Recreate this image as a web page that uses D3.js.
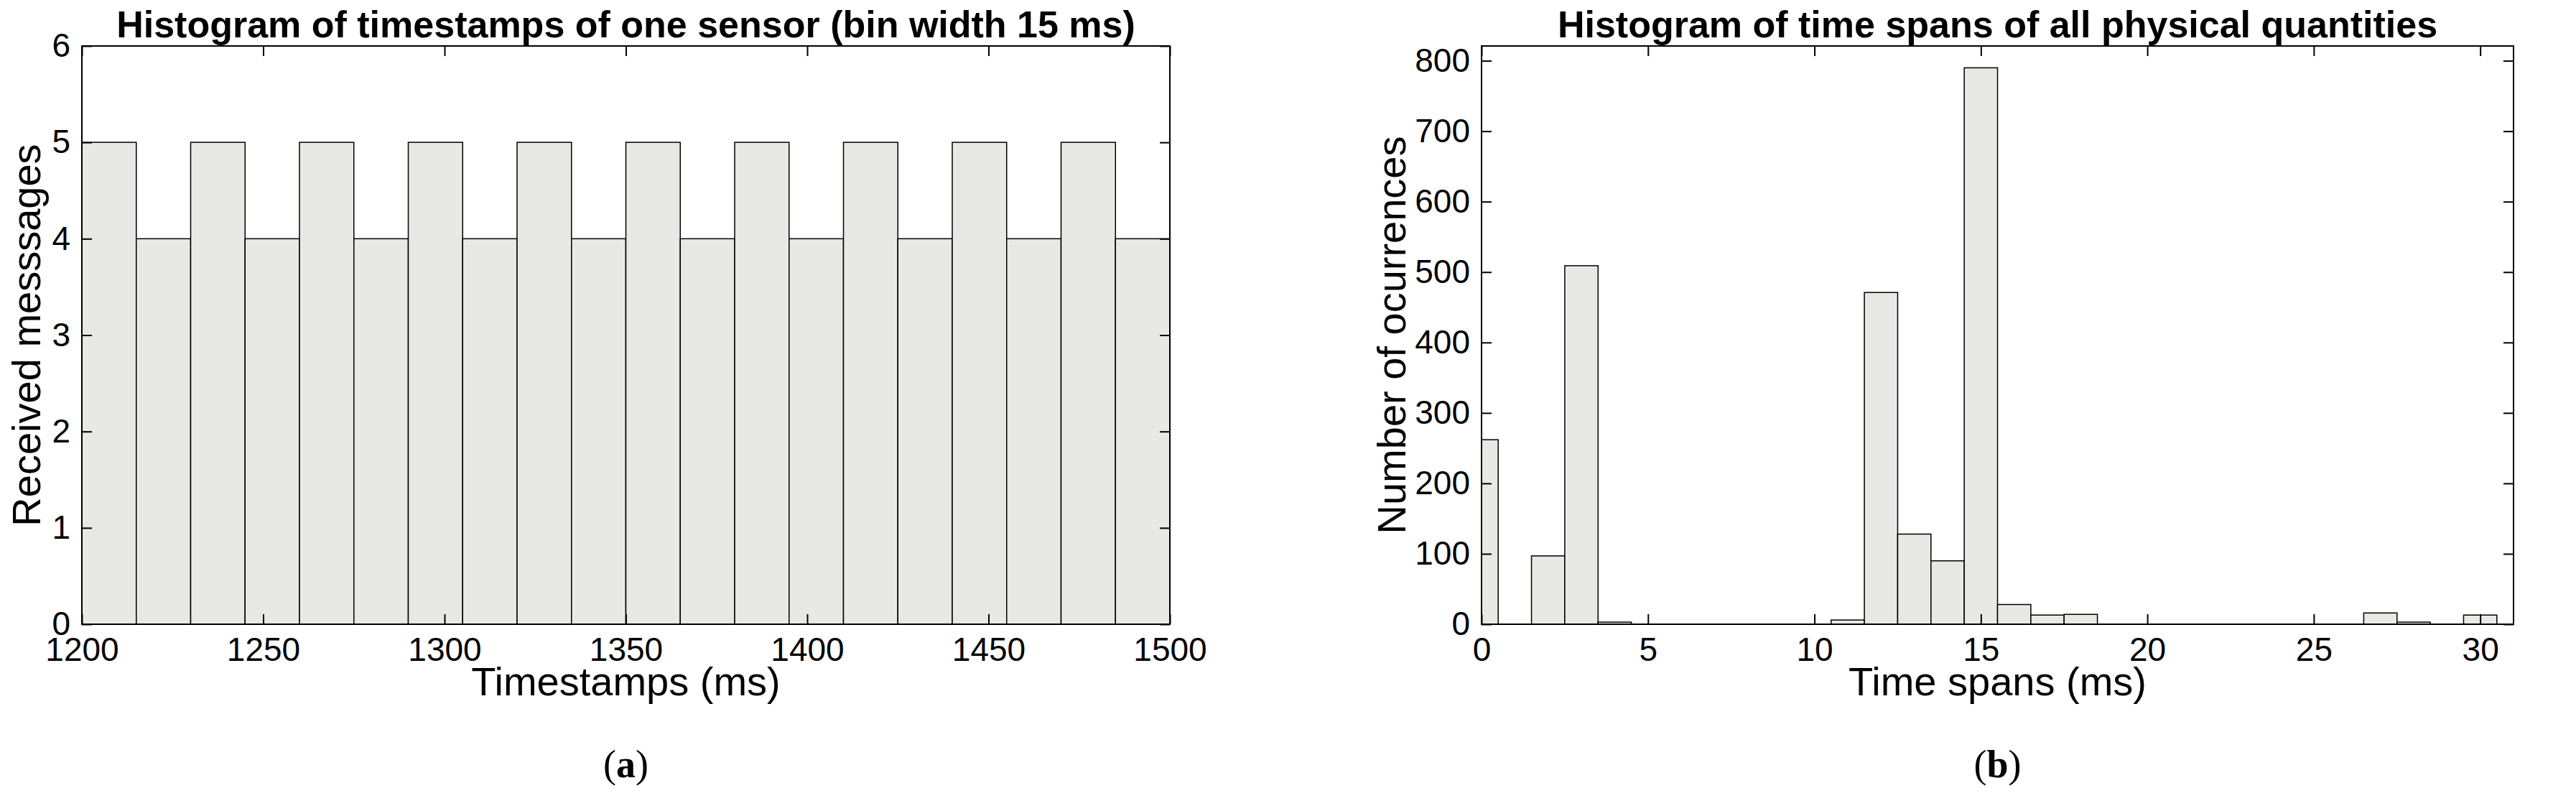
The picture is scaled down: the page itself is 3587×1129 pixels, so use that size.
<!DOCTYPE html>
<html><head><meta charset="utf-8">
<script src="https://cdn.jsdelivr.net/npm/d3@7"></script>
<style>body{margin:0;background:#fff}text{font-family:"Liberation Sans Narrow","Liberation Sans",Arial,sans-serif}</style>
</head><body><svg id="c" width="3587" height="1129"></svg>
<script>
const leftBinEdges = d3.range(1200, 1501, 15);
const leftCounts = [5,4,5,4,5,4,5,4,5,4,5,4,5,4,5,4,5,4,5,4];
const leftXTicks = [1200,1250,1300,1350,1400,1450,1500];
const leftYTicks = [0,1,2,3,4,5,6];
const rightBinCenters = d3.range(0, 31);
const rightCounts = [262,0,97,509,3,0,0,0,0,0,0,6,471,128,90,790,28,13,14,0,0,0,0,0,0,0,0,16,3,0,13];
const rightXTicks = [0,5,10,15,20,25,30];
const rightYTicks = [0,100,200,300,400,500,600,700,800];

const svg = d3.select("#c");
const fill = "#e8e8e4";
const fmt = d3.format("d");

function panel(o){
  const g = svg.append("g");
  const x = d3.scaleLinear().domain(o.xd).range([o.l,o.r]);
  const y = d3.scaleLinear().domain(o.yd).range([o.b,o.t]);
  g.selectAll("rect.bar").data(o.bars).enter().append("rect")
    .attr("x", d=>x(Math.max(d.x0,o.xd[0]))).attr("width", d=>x(d.x1)-x(Math.max(d.x0,o.xd[0])))
    .attr("y", d=>y(d.v)).attr("height", d=>y(0)-y(d.v))
    .attr("fill", fill).attr("stroke","#000").attr("stroke-width",1.5);
  const tl = 14;
  const ax = (gen, tr)=>g.append("g").attr("transform",tr).call(gen)
      .call(s=>{s.select(".domain").remove(); s.selectAll("line").attr("stroke","#000").attr("stroke-width",2);});
  const bx = ax(d3.axisBottom(x).tickValues(o.xt).tickSize(-tl).tickPadding(tl+4).tickFormat(fmt), `translate(0,${o.b})`);
  bx.selectAll("text").attr("font-size",46).attr("fill","#000");
  ax(d3.axisTop(x).tickValues(o.xt).tickSize(-tl).tickFormat(""), `translate(0,${o.t})`);
  const ly = ax(d3.axisLeft(y).tickValues(o.yt).tickSize(-tl).tickPadding(tl+2).tickFormat(fmt), `translate(${o.l},0)`);
  ly.selectAll("text").attr("font-size",46).attr("fill","#000");
  ax(d3.axisRight(y).tickValues(o.yt).tickSize(-tl).tickFormat(""), `translate(${o.r},0)`);
  g.append("rect").attr("x",o.l).attr("y",o.t).attr("width",o.r-o.l).attr("height",o.b-o.t)
    .attr("fill","none").attr("stroke","#000").attr("stroke-width",2);
  g.append("text").attr("x",(o.l+o.r)/2).attr("y",o.t-12).attr("text-anchor","middle")
    .attr("font-size",52).attr("font-weight","bold").text(o.title);
  g.append("text").attr("x",(o.l+o.r)/2).attr("y",968).attr("text-anchor","middle")
    .attr("font-size",56).text(o.xlabel);
  g.append("text").attr("transform",`translate(${o.l-o.ylo},${(o.t+o.b)/2}) rotate(-90)`)
    .attr("text-anchor","middle").attr("font-size",56).text(o.ylabel);
  const cap = g.append("text").attr("x",(o.l+o.r)/2).attr("y",1082).attr("text-anchor","middle")
    .attr("font-size",54).style("font-family","'Liberation Serif','DejaVu Serif',serif");
  cap.append("tspan").text("(");
  cap.append("tspan").attr("font-weight","bold").text(o.cap);
  cap.append("tspan").text(")");
}

panel({l:114,r:1629,t:64,b:869,xd:[1200,1500],yd:[0,6],
  bars:leftCounts.map((v,i)=>({x0:leftBinEdges[i],x1:leftBinEdges[i+1],v})),
  xt:leftXTicks,yt:leftYTicks,title:"Histogram of timestamps of one sensor (bin width 15 ms)",
  xlabel:"Timestamps (ms)",ylabel:"Received messsages",cap:"a",ylo:58});
panel({l:2063,r:3500,t:64,b:869,xd:[0,31],yd:[0,821],
  bars:rightCounts.map((v,i)=>({x0:rightBinCenters[i]-0.5,x1:rightBinCenters[i]+0.5,v})),
  xt:rightXTicks,yt:rightYTicks,title:"Histogram of time spans of all physical quantities",
  xlabel:"Time spans (ms)",ylabel:"Number of ocurrences",cap:"b",ylo:106});
</script></body></html>
